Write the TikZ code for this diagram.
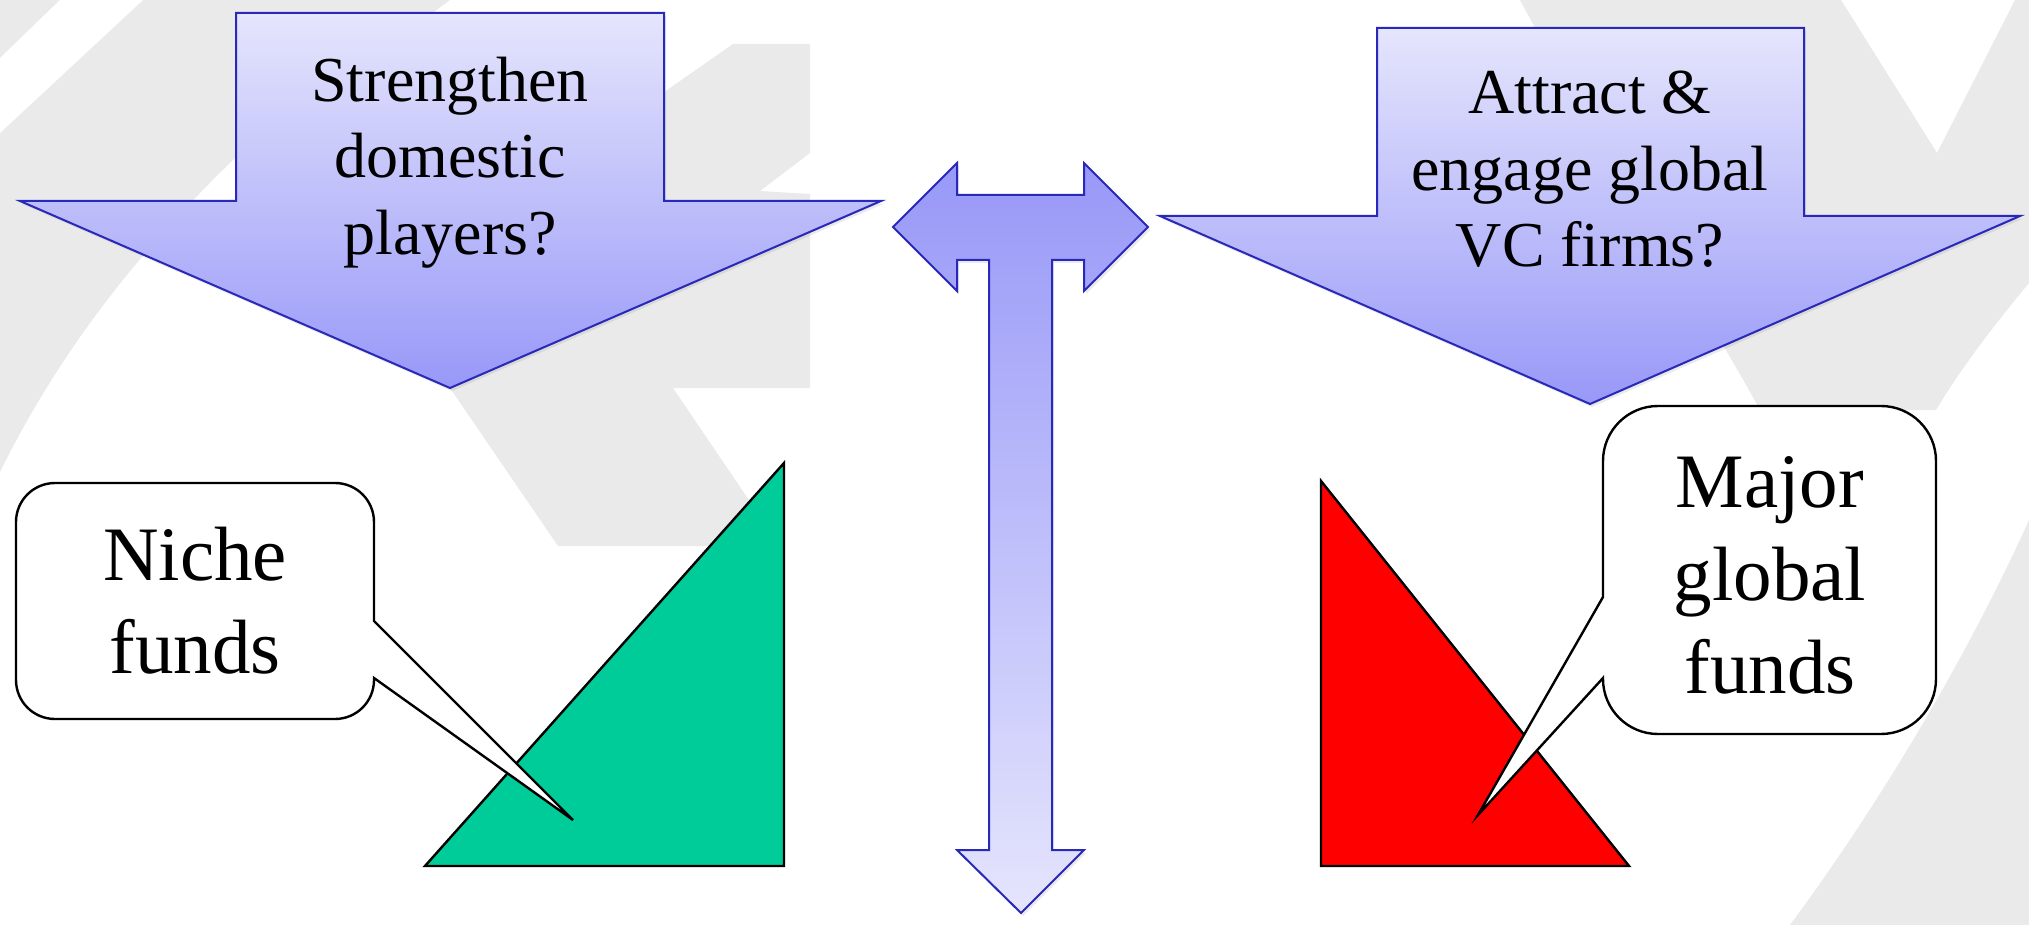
\documentclass[tikz,border=0pt]{standalone}
\usepackage{fontspec}
\setmainfont{Liberation Serif}
\usetikzlibrary{shadows}

\definecolor{wmgray}{RGB}{234,234,234}
\definecolor{arrowlight}{RGB}{229,229,253}
\definecolor{arrowdark}{RGB}{152,152,248}
\definecolor{arrowline}{RGB}{40,40,185}
\definecolor{nichegreen}{RGB}{0,204,153}
\definecolor{majorred}{RGB}{255,0,0}

\tikzset{
  watermark/.style={fill=wmgray},
  arrowshadow/.style={drop shadow={opacity=0.16, shadow xshift=2pt, shadow yshift=-3pt}},
  downarrow/.style={draw=arrowline, line width=2pt, line join=miter,
    top color=arrowlight, bottom color=arrowdark, arrowshadow},
  tarrow/.style={draw=arrowline, line width=2pt, line join=miter,
    top color=arrowdark, bottom color=arrowlight, arrowshadow},
  wedge/.style={draw=black, line width=2.4pt, line join=miter},
  bubble/.style={draw=black, fill=white, line width=2.4pt, line join=miter},
  arrowtext/.style={align=center, inner sep=0pt, font=\fontsize{64}{76.5}\selectfont},
  bubbletext/.style={align=center, inner sep=0pt, font=\fontsize{77}{93}\selectfont},
}

\begin{document}
\begin{tikzpicture}[x=1pt,y=-1pt]
\useasboundingbox (0,0) rectangle (2029,925);
\fill[white] (0,0) rectangle (2029,925);

% --- faint watermark logo in the background ---
% left arc band
\fill[watermark] (0,0) -- (450,0) -- (233,160)
  .. controls (140,250) and (60,350) .. (0,472) -- cycle;
\fill[white] (0,58) -- (60,0) -- (143,0) -- (0,133) -- cycle;
% chevron-like block
\fill[watermark] (640,109) -- (670,88) -- (733,44) -- (810,44) -- (810,153)
  -- (760,191) -- (810,194) -- (810,388) -- (673,388) -- (780,546)
  -- (558,546) -- (450,388) -- cycle;
% right side: upper block with a V notch
\fill[watermark] (1520,0) -- (1841,0) -- (1937,153) -- (2015,0) -- (2029,0)
  -- (2029,283) .. controls (1990,330) and (1960,370) .. (1936,410)
  -- (1760,410) .. controls (1700,300) and (1600,150) .. (1520,0) -- cycle;
% right side: lower arc band
\fill[watermark] (2029,520) .. controls (1975,640) and (1890,790) .. (1790,925)
  -- (2029,925) -- cycle;

% --- left block arrow ---
\fill[downarrow] (236,13) -- (664,13) -- (664,201) -- (881,201) -- (450,388)
  -- (20,201) -- (236,201) -- cycle;
\node[arrowtext] (domestic) at (450,162.5) {Strengthen\\domestic\\players?};

% --- right block arrow ---
\fill[downarrow] (1377,28) -- (1804,28) -- (1804,216) -- (2020,216) -- (1590,404)
  -- (1160,216) -- (1377,216) -- cycle;
\node[arrowtext] (global) at (1590,169.5) {Attract \&\\engage global\\VC firms?};

% --- central T-shaped three-way arrow ---
\fill[tarrow] (893,227) -- (957,163) -- (957,195) -- (1084,195) -- (1084,163)
  -- (1148,227) -- (1084,291) -- (1084,260) -- (1052,260) -- (1052,850)
  -- (1084,850) -- (1021,913) -- (957,850) -- (989,850) -- (989,260)
  -- (957,260) -- (957,291) -- cycle;

% --- triangles ---
\filldraw[wedge, fill=nichegreen] (425,866) -- (784,463) -- (784,866) -- cycle;
\filldraw[wedge, fill=majorred] (1321,481) -- (1321,866) -- (1629,866) -- cycle;

% --- callouts ---
\filldraw[bubble] (55,483) -- (335,483) arc (-90:0:39) -- (374,621) -- (573,820)
  -- (374,678) -- (374,680) arc (0:90:39) -- (55,719) arc (90:180:39)
  -- (16,522) arc (180:270:39) -- cycle;
\node[bubbletext] (niche) at (195,601) {Niche\\funds};

\filldraw[bubble] (1658,406) -- (1881,406) arc (-90:0:55) -- (1936,679)
  arc (0:90:55) -- (1658,734) arc (90:180:55) -- (1603,678) -- (1478,815)
  -- (1603,597) -- (1603,461) arc (180:270:55) -- cycle;
\node[bubbletext] (major) at (1770,575.5) {Major\\global\\funds};
\end{tikzpicture}
\end{document}
